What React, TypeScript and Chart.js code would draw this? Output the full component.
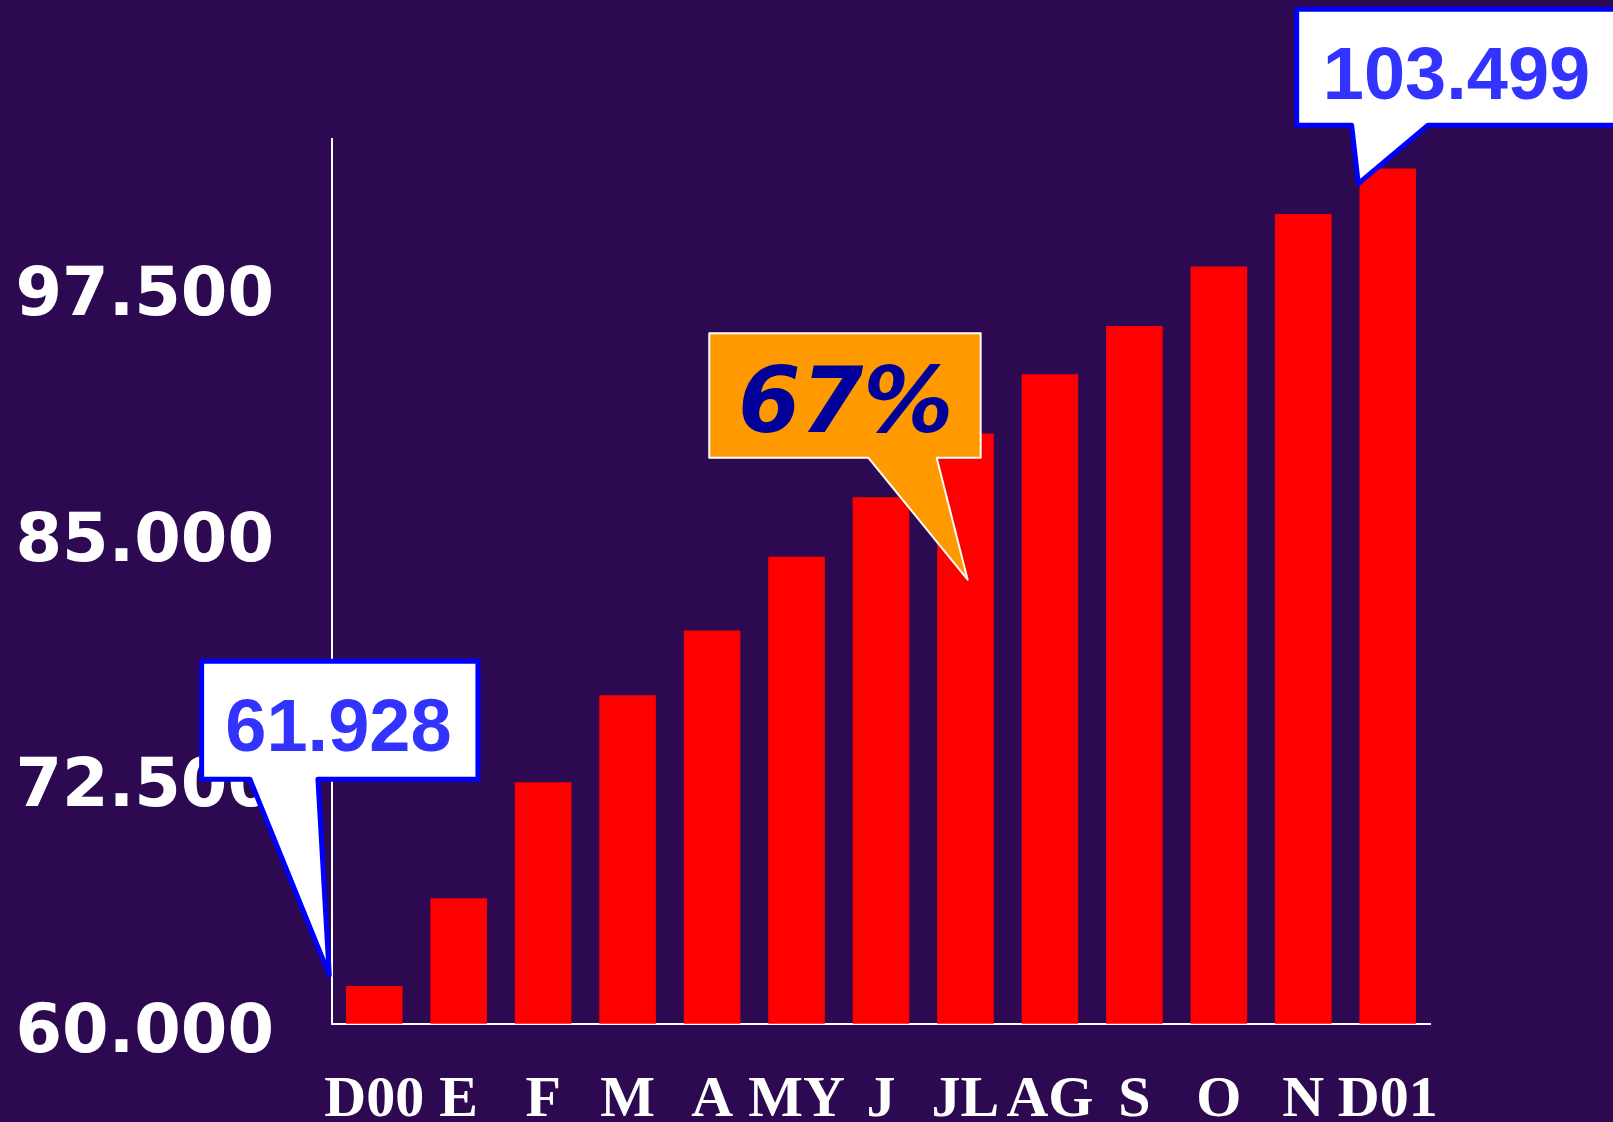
import React, { useEffect, useRef } from "react";
import { Chart, registerables } from "chart.js";

Chart.register(...registerables);

const categories = ["D00", "E", "F", "M", "A", "MY", "J", "JL", "AG", "S", "O", "N", "D01"];
const values = [61928, 66380, 72280, 76710, 80000, 83760, 86780, 90020, 93040, 95490, 98520, 101180, 103499];
const yTicks = [60000, 72500, 85000, 97500];
const yMin = 60000;
const yMax = 105000;

const BG = "#2C0950";

const fmt = (v: number) => Math.round(v).toString().replace(/\B(?=(\d{3})+(?!\d))/g, ".");
const growthPct = Math.round((values[values.length - 1] / values[0] - 1) * 100);

type Callout = {
  index: number;
  dx: number;
  dy: number;
  box: [number, number, number, number];
  base: [number, number];
  text: string;
  textX: number;
  textY: number;
  fill: string;
  stroke: string;
  lineWidth: number;
  color: string;
  font: string;
};

const callouts: Callout[] = [
  {
    index: 0, dx: -45, dy: -11,
    box: [-127.6, -313.7, 148.7, -195.7], base: [-79.3, -11.3],
    text: fmt(values[0]), textX: 136.8, textY: 89.7,
    fill: "#FFFFFF", stroke: "#0000FF", lineWidth: 5, color: "#3333FF",
    font: "bold 74px 'Liberation Sans', Arial, sans-serif",
  },
  {
    index: 7, dx: 2.2, dy: 146.2,
    box: [-258.4, -246.6, 13, -122], base: [-99.4, -31],
    text: growthPct + "%", textX: 136.5, textY: 98.6,
    fill: "#FF9900", stroke: "#FFFFFF", lineWidth: 2, color: "#000099",
    font: "italic bold 90px 'DejaVu Sans', Verdana, sans-serif",
  },
  {
    index: values.length - 1, dx: -29.5, dy: 15.1,
    box: [-61.6, -174.4, 280, -58.4], base: [-6.6, 69.7],
    text: fmt(values[values.length - 1]), textX: 159.8, textY: 89.4,
    fill: "#FFFFFF", stroke: "#0000FF", lineWidth: 5, color: "#3333FF",
    font: "bold 74px 'Liberation Sans', Arial, sans-serif",
  },
];

const bgPlugin = {
  id: "bgFill",
  beforeDraw(chart: any) {
    const ctx = chart.ctx;
    ctx.save();
    ctx.fillStyle = BG;
    ctx.fillRect(0, 0, chart.width, chart.height);
    ctx.restore();
  },
};

const calloutPlugin = {
  id: "callouts",
  afterDraw(chart: any) {
    const ctx = chart.ctx;
    const xs = chart.scales.x;
    const ys = chart.scales.y;
    callouts.forEach((c) => {
      const tx = xs.getPixelForValue(c.index) + c.dx;
      const ty = ys.getPixelForValue(values[c.index]) + c.dy;
      const L = tx + c.box[0], T = ty + c.box[1], R = tx + c.box[2], B = ty + c.box[3];
      ctx.save();
      ctx.beginPath();
      ctx.moveTo(L, T);
      ctx.lineTo(R, T);
      ctx.lineTo(R, B);
      ctx.lineTo(tx + c.base[1], B);
      ctx.lineTo(tx, ty);
      ctx.lineTo(tx + c.base[0], B);
      ctx.lineTo(L, B);
      ctx.closePath();
      ctx.fillStyle = c.fill;
      ctx.fill();
      ctx.lineJoin = "round";
      ctx.lineWidth = c.lineWidth;
      ctx.strokeStyle = c.stroke;
      ctx.stroke();
      ctx.fillStyle = c.color;
      ctx.font = c.font;
      ctx.textAlign = "center";
      ctx.textBaseline = "alphabetic";
      ctx.fillText(c.text, L + c.textX, T + c.textY);
      ctx.restore();
    });
  },
};

export default function App() {
  const ref = useRef<HTMLCanvasElement | null>(null);
  useEffect(() => {
    document.body.style.margin = "0";
    document.body.style.overflow = "hidden";
    const canvas = ref.current;
    if (!canvas) return;
    const chart = new Chart(canvas, {
      type: "bar",
      data: {
        labels: categories,
        datasets: [
          {
            data: values,
            backgroundColor: "#FF0000",
            borderWidth: 0,
            categoryPercentage: 1,
            barPercentage: 0.67,
          },
        ],
      },
      options: {
        responsive: false,
        animation: false,
        devicePixelRatio: 1,
        layout: { padding: { left: 0, right: 183, top: 139, bottom: 0 } },
        plugins: { legend: { display: false }, tooltip: { enabled: false } },
        scales: {
          x: {
            grid: { display: false, drawTicks: false },
            border: { display: true, color: "#FFFFFF", width: 2 },
            ticks: {
              color: "#FFFFFF",
              autoSkip: false,
              maxRotation: 0,
              minRotation: 0,
              padding: 42,
              font: { family: "'Liberation Serif', 'Times New Roman', serif", size: 58, weight: "bold" },
            },
            afterFit(scale: any) {
              scale.height = 97;
            },
          },
          y: {
            min: yMin,
            max: yMax,
            grid: { display: false, drawTicks: false },
            border: { display: true, color: "#FFFFFF", width: 2 },
            ticks: {
              color: "#FFFFFF",
              padding: 58,
              labelOffset: 11,
              font: { family: "'DejaVu Sans', Verdana, sans-serif", size: 67, weight: "bold" },
              callback: (v: any) => fmt(Number(v)),
            },
            afterBuildTicks(scale: any) {
              scale.ticks = yTicks.map((v) => ({ value: v }));
            },
            afterFit(scale: any) {
              scale.width = 332;
            },
          },
        },
      },
      plugins: [bgPlugin, calloutPlugin],
    } as any);
    return () => chart.destroy();
  }, []);
  return (
    <div style={{ position: "fixed", left: 0, top: 0, width: 1613, height: 1122, background: BG }}>
      <canvas ref={ref} width={1613} height={1122} style={{ display: "block" }} />
    </div>
  );
}
